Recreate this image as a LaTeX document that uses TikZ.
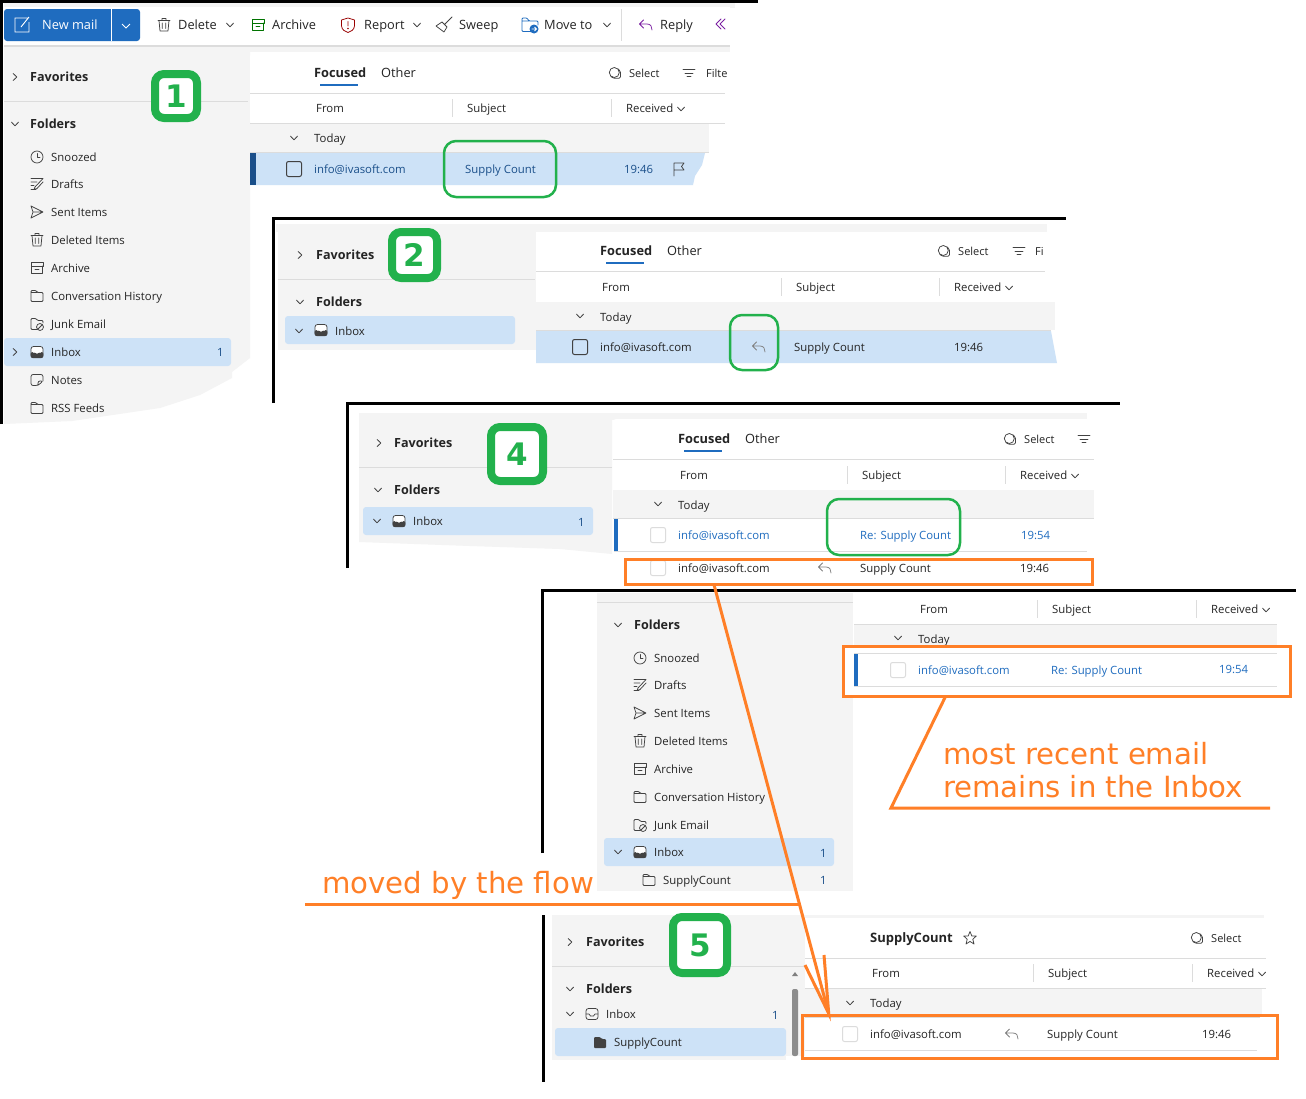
\documentclass[tikz,border=0pt]{standalone}
\usepackage{fontspec}
\setmainfont{Open Sans}
\newfontfamily\annot{DejaVu Sans}
\usetikzlibrary{calc}
\definecolor{gpane}{HTML}{F4F4F4}
\definecolor{gline}{HTML}{DCDCDC}
\definecolor{sel}{HTML}{CDE2F7}
\definecolor{ink}{HTML}{242424}
\definecolor{icn}{HTML}{424242}
\definecolor{dblue}{HTML}{1A4F8A}
\definecolor{mblue}{HTML}{1F6CBF}
\definecolor{ogreen}{HTML}{22B14C}
\definecolor{orng}{HTML}{FF7F27}
\definecolor{purp}{HTML}{7B1FA2}
\tikzset{
 txt/.style={anchor=base west,inner sep=0pt,yshift=-4.7pt,text=ink,font=\fontsize{11.35}{13}\selectfont},
 tb/.style={font=\fontsize{12.8}{14}\selectfont},
 bld/.style={font=\fontsize{12.6}{14}\selectfont\bfseries},
 sm/.style={font=\fontsize{11}{13}\selectfont},
 blu/.style={text=mblue},
 dbl/.style={text=dblue},
 ic/.style={draw=icn,line width=0.75pt,line join=round,line cap=round},
 hair/.style={draw=gline,line width=1pt},
 badge/.style={draw=ogreen,fill=white,line width=8pt,rounded corners=9pt,inner sep=0pt,text=ogreen,font=\annot\fontsize{31}{31}\selectfont\bfseries},
 gbox/.style={draw=ogreen,line width=2.5pt,rounded corners=12pt,inner sep=0pt},
 obox/.style={draw=orng,line width=3pt,inner sep=0pt},
 oline/.style={draw=orng,line width=3pt,line join=miter},
 onote/.style={anchor=base west,inner sep=0pt,text=orng,font=\annot\fontsize{29.2}{30}\selectfont},
 frameline/.style={draw=black,line width=3pt,line cap=butt},
}
\newcounter{tn}
\newcommand{\T}[4][]{\stepcounter{tn}\node[txt,#1] (t\arabic{tn}) at (#2,#3) {#4};}
\newcommand{\At}[3]{\begin{scope}[shift={(#1,#2)}]#3\end{scope}}
\newcommand{\ChD}[2]{\At{#1}{#2}{\draw[ic] (-3.5,-1.8) -- (0,1.8) -- (3.5,-1.8);}}
\newcommand{\ChR}[2]{\At{#1}{#2}{\draw[ic] (-1.8,-3.5) -- (1.8,0) -- (-1.8,3.5);}}
\newcommand{\Cb}[3][icn]{\draw[draw=#1,line width=1pt,rounded corners=2pt] (#2-7.5,#3-7.5) rectangle (#2+7.5,#3+7.5);}
\newcommand{\Reply}[3][gray]{\At{#2}{#3}{\draw[ic,draw=#1] (-2.5,-5) -- (-6.5,-1) -- (-2.5,3) (-6.5,-1) -- (1,-1) .. controls (5,-1) and (6,2) .. (6,5);}}
\newcommand{\Sel}[2]{\At{#1}{#2}{\draw[ic] (-0.7,-0.5) circle (5); \draw[ic,rounded corners=1.5pt] (3,-4) -- (5.5,-2) -- (5.5,5.3) -- (-2,5.3) -- (-4,3.5);}}
\newcommand{\Filt}[2]{\At{#1}{#2}{\draw[ic] (-6,-3.5) -- (6,-3.5) (-4,0) -- (4,0) (-2,3.5) -- (2,3.5);}}
\newcommand{\Clock}[2]{\At{#1}{#2}{\draw[ic] (0,0) circle (6); \draw[ic] (0,-3.5) -- (0,0.5) -- (3,0.5);}}
\newcommand{\Draft}[2]{\At{#1}{#2}{\draw[ic] (-6,-5.5) -- (6,-5.5) -- (-2,3) -- (-3,5.5) -- (0,4.5) -- (6,-2) (-6,-2) -- (0,-2) (-6,1.5) -- (-3,1.5) (-6,5.5) -- (-1,5.5);}}
\newcommand{\Sent}[2]{\At{#1}{#2}{\draw[ic] (-6,-6) -- (6,0) -- (-6,6) -- (-4,0) -- cycle (-4,0) -- (6,0);}}
\newcommand{\Trash}[2]{\At{#1}{#2}{\draw[ic] (-6,-4.5) -- (6,-4.5) (-2,-4.5) -- (-2,-6.5) -- (2,-6.5) -- (2,-4.5) (-5,-4.5) -- (-4,6) -- (4,6) -- (5,-4.5) (-1.7,-2) -- (-1.7,3.5) (1.7,-2) -- (1.7,3.5);}}
\newcommand{\Arch}[3][icn]{\At{#2}{#3}{\draw[ic,draw=#1] (-6,-5.5) rectangle (6,-2) (-5.5,-2) -- (-5.5,5.5) -- (5.5,5.5) -- (5.5,-2) (-2,1) -- (2,1);}}
\newcommand{\Fold}[2]{\At{#1}{#2}{\draw[ic,rounded corners=1pt] (-6,5.5) -- (-6,-5.5) -- (-1,-5.5) -- (0.5,-3.5) -- (6,-3.5) -- (6,5.5) -- cycle (-6,-3.5) -- (0.5,-3.5);}}
\newcommand{\Junk}[2]{\At{#1}{#2}{\draw[ic,rounded corners=1pt] (0,5.5) -- (-6,5.5) -- (-6,-5.5) -- (-1,-5.5) -- (0.5,-3.5) -- (6,-3.5) -- (6,-1); \draw[ic] (3,3) circle (3.5) (0.8,5.2) -- (5.2,0.8);}}
\newcommand{\Inb}[2]{\At{#1}{#2}{\draw[ic,fill=white,rounded corners=2.5pt] (-6,-5.5) rectangle (6,5.5); \fill[icn,rounded corners=2pt] (-6.4,0) -- (-3,0) -- (-1.5,2) -- (1.5,2) -- (3,0) -- (6.4,0) -- (6.4,6) -- (-6.4,6) -- cycle;}}
\newcommand{\Note}[2]{\At{#1}{#2}{\draw[ic,rounded corners=2pt] (6,1) -- (6,-5.5) -- (-6,-5.5) -- (-6,5.5) -- (1,5.5) -- (6,1) -- (1,1) -- (1,5.5);}}
\newcommand{\Items}[3]{% textx icon x, y start
 \Clock{#2}{#3}\T{#1}{#3}{Snoozed}
 \Draft{#2}{#3+27}\T{#1}{#3+27}{Drafts}
 \Sent{#2}{#3+55}\T{#1}{#3+55}{Sent Items}
 \Trash{#2}{#3+83}\T{#1}{#3+83}{Deleted Items}
 \Arch{#2}{#3+111}\T{#1}{#3+111}{Archive}
 \Fold{#2}{#3+139}\T{#1}{#3+139}{Conversation History}
 \Junk{#2}{#3+167}\T{#1}{#3+167}{Junk Email}
}
\newcommand{\Cols}[6]{% y, x0, x1, fromx, sep1, sep2
 \T{#4}{#1}{From}
 \draw[hair] (#5,#1-9) -- (#5,#1+9);
 \T{#5+15}{#1}{Subject}
 \draw[hair] (#6,#1-9) -- (#6,#1+9);
 \T{#6+15}{#1}{Received}
 \ChD{#6+70}{#1+1}
 \draw[hair] (#2,#1+15.5) -- (#3,#1+15.5);
}
\newcommand{\Tabs}[3]{% y, x focused, x other
 \T[bld,font=\fontsize{12.8}{14}\selectfont\bfseries]{#2}{#1}{Focused}
 \fill[mblue] (#2+6,#1+11) rectangle (#2+44,#1+13);
 \T[tb]{#3}{#1}{Other}
}
\begin{document}
\begin{tikzpicture}[x=1pt,y=-1pt]
\useasboundingbox (0,0) rectangle (1306,1098);
\fill[white] (0,0) rectangle (1306,1098);

% ---------- PANEL 1
\fill[gpane] (4,2) rectangle (735,8);
\fill[white] (4,7) rectangle (730,45);
\fill[gpane!90!black] (4,45) rectangle (730,47);
\fill[gpane] (4,47) rectangle (730,52);
\fill[gpane] (4,50) -- (250,50) -- (250,358) -- (232,372) -- (232,378) -- (200,395) -- (160,408) -- (72,421) -- (4,424) -- cycle;
\fill[white,rounded corners=3pt] (250,53) -- (730,53) -- (726,124) -- (250,124) -- cycle;
\fill[mblue,rounded corners=3pt] (4,9) rectangle (140,41);
\draw[white,line width=1pt] (111.5,9) -- (111.5,41);
\At{22}{25}{\draw[white,line width=.9pt] (6,-7) -- (-7,-7) -- (-7,7) -- (7,7) -- (7,-3) (-1,2) -- (7,-8);}
\T[tb,text=white]{42}{25}{New mail}
\draw[white,line width=.9pt] (122,24) -- (126,28) -- (130,24);
\Trash{164}{25}\T[tb]{178}{25}{Delete}\ChD{230}{25}
\Arch[green!45!black]{258}{25}\T[tb]{272}{25}{Archive}
\At{348}{25}{\draw[ic,draw=red!60!black] (0,-7) -- (6.5,-5) -- (6.5,1) .. controls (6,5) and (3,6.5) .. (0,7.5) .. controls (-3,6.5) and (-6,5) .. (-6.5,1) -- (-6.5,-5) -- cycle (0,-3.5) -- (0,1); \fill[red!60!black] (0,3.5) circle (0.8);}
\T[tb]{364}{25}{Report}\ChD{417}{25}
\At{444}{25}{\draw[ic] (8,-8) -- (1,-1) (-2,-3) -- (3,2) -- (0,7) -- (-8,1) -- cycle;}
\T[tb]{459}{25}{Sweep}
\At{530}{25}{\draw[ic,draw=mblue,rounded corners=1pt] (2,6.5) -- (-8,6.5) -- (-8,-7) -- (-3,-7) -- (-1,-4) -- (8,-4) -- (8,0) (-8,-4) -- (-1,-4); \fill[mblue] (4,4) circle (4.5); \draw[white,line width=.8pt] (1.5,4) -- (6.5,4) (4.5,2) -- (6.5,4) -- (4.5,6);}
\T[tb]{544}{25}{Move to}\ChD{607}{25}
\draw[hair] (621.5,9) -- (621.5,41);
\Reply[purp]{646}{25}\T[tb]{660}{25}{Reply}
\At{722}{24}{\draw[ic,draw=purp] (-1,-5) -- (-6,0) -- (-1,5) (3,-5) -- (-2,0) -- (3,5);}
% nav 1
\ChR{15}{77}\T[bld]{30}{77}{Favorites}
\draw[hair] (4,101.5) -- (248,101.5);
\ChD{15}{124}\T[bld]{30}{124}{Folders}
\Items{51}{37}{157}
\fill[sel,rounded corners=3pt] (4,338) rectangle (231,366);
\ChR{15}{352}\Inb{37}{352}\T{51}{352}{Inbox}\T[dbl]{217}{352}{1}
\Note{37}{380}\T{51}{380}{Notes}
\Fold{37}{408}\T{51}{408}{RSS Feeds}
% list 1
\Tabs{73}{314}{381}
\Sel{615}{73}\T[sm]{629}{73}{Select}
\Filt{689}{73}\T[sm]{706}{73}{Filte}
\draw[hair] (250,93.5) -- (725,93.5);
\Cols{108}{250}{725}{316}{452}{611}
\fill[gpane] (250,124) rectangle (709,152);
\draw[hair] (250,152.5) -- (709,152.5);
\ChD{294}{138}\T{314}{138}{Today}
\fill[sel] (250,153) -- (705,153) -- (702,165) -- (695,176) -- (693,185) -- (250,185) -- cycle;
\fill[dblue] (250,153) rectangle (256,185);
\Cb{294}{169}
\T[dbl]{314}{169}{info@ivasoft.com}
\T[dbl]{465}{169}{Supply Count}
\T[dbl]{624}{169}{19:46}
\At{679}{169}{\draw[ic] (-5,7) -- (-5,-6) -- (5,-6) -- (2.5,-2.5) -- (5,1) -- (-5,1);}
\node[gbox,minimum width=112pt,minimum height=56pt] (g1) at (500,169) {};
\node[badge,minimum width=42pt,minimum height=44pt] (b1) at (176,96) {1};

% ---------- PANEL 2
\fill[gpane] (276,224) rectangle (1047,232);
\fill[gpane] (278,232) -- (536,232) -- (536,350) -- (278,350) -- cycle;
\ChR{300}{255}\T[bld]{316}{255}{Favorites}
\draw[hair] (278,279.5) -- (535,279.5);
\ChD{300}{302}\T[bld]{316}{302}{Folders}
\fill[sel,rounded corners=3pt] (285,316) rectangle (515,344);
\ChD{299}{331}\Inb{321}{330}\T{335}{331}{Inbox}
\fill[white,rounded corners=3pt] (536,232) rectangle (1045,302);
\Tabs{251}{600}{667}
\Sel{944}{251}\T[sm]{958}{251}{Select}
\Filt{1019}{251}\T[sm]{1035}{251}{Fi}
\draw[hair] (536,271.5) -- (1045,271.5);
\Cols{287}{536}{1045}{602}{781}{939}
\fill[gpane] (536,302) rectangle (1055,330);
\draw[hair] (536,330.5) -- (1051,330.5);
\ChD{580}{316}\T{600}{317}{Today}
\fill[sel] (536,331) -- (1051,331) -- (1057,363) -- (536,363) -- cycle;
\Cb{580}{347}
\T{600}{347}{info@ivasoft.com}
\Reply{759}{347}
\T{794}{347}{Supply Count}
\T{954}{347}{19:46}
\node[gbox,minimum width=48pt,minimum height=55pt] (g2) at (754,342.5) {};
\node[badge,minimum width=45pt,minimum height=46pt] (b2) at (414.5,255) {2};

% ---------- PANEL 4
\fill[gpane] (359,413) rectangle (1087,420);
\fill[gpane] (359,420) -- (612,420) -- (612,554) -- (560,549) -- (470,546) -- (359,542) -- cycle;
\ChR{379}{443}\T[bld]{394}{443}{Favorites}
\draw[hair] (359,467.5) -- (612,467.5);
\ChD{378}{490}\T[bld]{394}{490}{Folders}
\fill[sel,rounded corners=3pt] (363,507) rectangle (593,535);
\ChD{377}{521}\Inb{399}{521}\T{413}{521}{Inbox}\T[dbl]{578}{522}{1}
\fill[white,rounded corners=3pt] (613,419) rectangle (1094,490);
\Tabs{439}{678}{745}
\Sel{1010}{439}\T[sm]{1024}{439}{Select}
\Filt{1084}{439}
\draw[hair] (613,459.5) -- (1094,459.5);
\Cols{475}{613}{1094}{680}{847}{1005}
\fill[gpane] (613,490) rectangle (1094,518);
\draw[hair] (613,518.5) -- (1094,518.5);
\ChD{658}{504}\T{678}{505}{Today}
\fill[mblue] (614,519) rectangle (618,551);
\draw[hair] (614,551.5) -- (1087,551.5);
\Cb[gline]{658}{535}
\T[blu]{678}{535}{info@ivasoft.com}
\T[blu]{860}{535}{Re: Supply Count}
\T[blu]{1021}{535}{19:54}
\Cb[gline]{658}{568}
\T{678}{568}{info@ivasoft.com}
\Reply{825}{568}
\T{860}{568}{Supply Count}
\T{1020}{568}{19:46}
\node[gbox,minimum width=133pt,minimum height=56pt] (g4) at (893.5,527) {};
\node[badge,minimum width=52pt,minimum height=54pt] (b4) at (517,454) {4};

% ---------- PANEL 5
\fill[gpane] (597,593) rectangle (853,891);
\draw[hair] (597,602) -- (853,602);
\ChD{618}{625}\T[bld]{634}{625}{Folders}
\Items{654}{640}{658}
\fill[sel,rounded corners=3pt] (604,838) rectangle (834,866);
\ChD{618}{852}\Inb{640}{852}\T{654}{852}{Inbox}\T[dbl]{820}{853}{1}
\Fold{649}{880}\T{663}{880}{SupplyCount}\T[dbl]{820}{880}{1}
\Cols{609}{854}{1277}{920}{1037}{1196}
\fill[gpane] (854,625) rectangle (1277,650);
\ChD{898}{638}\T{918}{639}{Today}
\fill[white] (845,647) rectangle (1288,695);
\draw[hair] (854,653) -- (1277,653);
\fill[mblue] (854,654) rectangle (858,686);
\draw[hair] (854,686.5) -- (1277,686.5);
\Cb[gline]{898}{670}
\T[blu]{918}{670}{info@ivasoft.com}
\T[blu]{1051}{670}{Re: Supply Count}
\T[blu]{1219}{669}{19:54}

% ---------- PANEL 6
\fill[gpane] (552,915) rectangle (805,1060);
\fill[white] (786,1056) rectangle (805,1060);
\ChR{570}{942}\T[bld]{586}{942}{Favorites}
\draw[hair] (552,966.5) -- (805,966.5);
\ChD{570}{989}\T[bld]{586}{989}{Folders}
\ChD{570}{1014}
\At{592}{1014}{\draw[ic,rounded corners=2.5pt] (-6,-5.5) rectangle (6,5.5); \draw[ic] (-6,0) -- (-3,0) -- (-1.5,2) -- (1.5,2) -- (3,0) -- (6,0);}
\T{606}{1014}{Inbox}\T[dbl]{772}{1015}{1}
\fill[sel,rounded corners=3pt] (555,1028) rectangle (786,1056);
\fill[icn,rounded corners=1pt] (594,1048) -- (594,1037) -- (600,1037) -- (602,1039) -- (606,1039) -- (606,1048) -- cycle;
\T{614}{1042}{SupplyCount}
\fill[gray] (795,972) -- (798,976) -- (792,976) -- cycle;
\fill[gray!90,rounded corners=2pt] (792,989) rectangle (798,1056);
\fill[gpane] (805,915) rectangle (1264,918);
\T[font=\fontsize{13}{15}\selectfont\bfseries]{870}{938}{SupplyCount}
\At{970}{938}{\draw[ic] (0,-6.5) -- (1.8,-2) -- (6.3,-2) -- (2.8,1.2) -- (4,6) -- (0,3.4) -- (-4,6) -- (-2.8,1.2) -- (-6.3,-2) -- (-1.8,-2) -- cycle;}
\Sel{1197}{938}\T[sm]{1211}{938}{Select}
\draw[hair] (805,958.5) -- (1266,958.5);
\Cols{973}{805}{1266}{872}{1033}{1192}
\fill[gpane] (805,989) rectangle (1262,1014);
\ChD{850}{1003}\T{870}{1003}{Today}
\draw[hair] (805,1017) -- (1260,1017);
\Cb[gline]{850}{1034}
\T{870}{1034}{info@ivasoft.com}
\Reply{1012}{1034}
\T{1047}{1034}{Supply Count}
\T{1202}{1034}{19:46}
\draw[hair] (805,1050.5) -- (1257,1050.5);
\node[badge,minimum width=54pt,minimum height=56pt] (b5) at (700,945) {5};

% ---------- black frames
\draw[frameline] (1.5,424) -- (1.5,1) -- (758,1);
\draw[frameline] (273.5,403) -- (273.5,218) -- (1066,218);
\draw[frameline] (347.5,568) -- (347.5,403) -- (1120,403);
\draw[frameline] (542.5,853) -- (542.5,590) -- (1296,590);
\draw[frameline] (543.5,915) -- (543.5,1082);

% ---------- orange annotations
\node[obox,minimum width=467pt,minimum height=25pt] (o4) at (858.5,571.5) {};
\node[obox,minimum width=447pt,minimum height=50pt] (o5) at (1066.5,671) {};
\node[obox,minimum width=475pt,minimum height=43pt] (o6) at (1039.5,1036.5) {};
\coordinate (tipA) at ($(o6.north west)!.059!(o6.north east)$);
\coordinate (startA) at ($(o4.south west)!.193!(o4.south east)$);
\coordinate (barbA) at (805,965);
\coordinate (barbB) at (824,955);
\draw[oline] (startA) -- (tipA);
\draw[oline] (barbA) -- (tipA) -- (barbB);
\coordinate (calloutS) at ($(o5.south west)!.23!(o5.south east)$);
\coordinate (calloutC) at (891,808);
\coordinate (calloutE) at (1270,808);
\draw[oline] (calloutS) -- (calloutC) -- (calloutE);
\node[onote] (n1) at (943,764) {most recent email};
\node[onote] (n2) at (943,797) {remains in the Inbox};
\node[onote] (n3) at (322,893) {moved by the flow};
\coordinate (flowL) at (305,904);
\coordinate (flowR) at (800,904);
\draw[oline] (flowL) -- (flowR);
\end{tikzpicture}
\end{document}
